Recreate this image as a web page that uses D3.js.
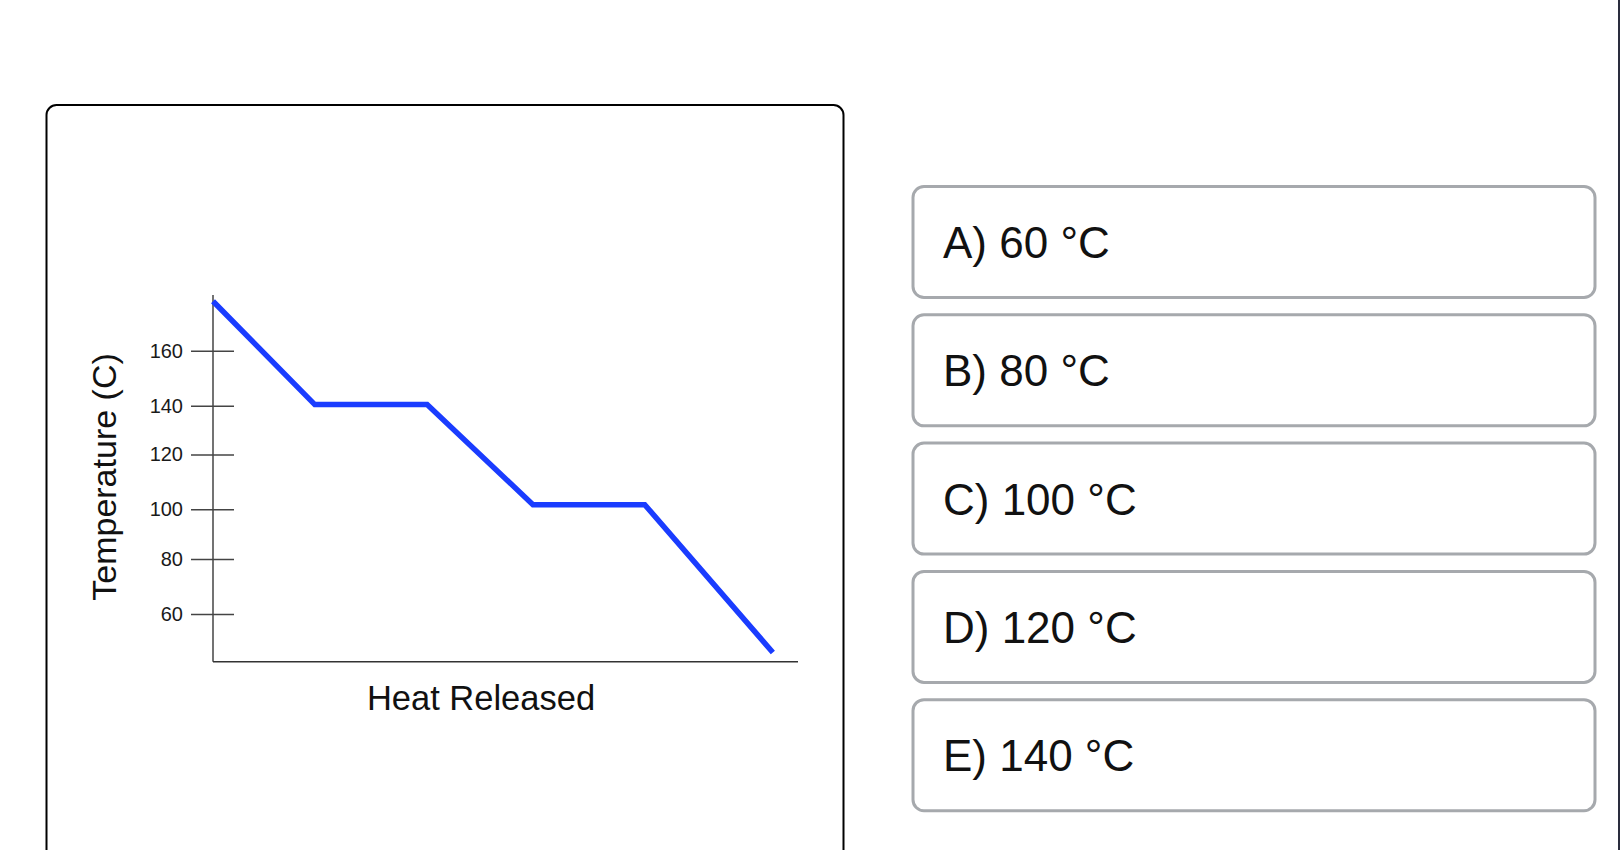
<!DOCTYPE html>
<html>
<head>
<meta charset="utf-8">
<script src="https://cdn.jsdelivr.net/npm/d3@7"></script>
<style>
  html,body{margin:0;padding:0;background:#fff;overflow:hidden}
  svg{display:block}
  text{font-family:"Liberation Sans",Arial,Helvetica,sans-serif}
</style>
</head>
<body>
<svg id="chart" width="1620" height="850"></svg>
<script>
// cooling curve data
var heatReleased = [0, 17.4, 36.6, 54.7, 73.8, 95.7]
var temperature = [178, 140.4, 140.4, 101.7, 101.7, 46]
var yTicks = [60, 80, 100, 120, 140, 160]
var choices = ['A) 60 °C', 'B) 80 °C', 'C) 100 °C', 'D) 120 °C', 'E) 140 °C']

var svg = d3.select('#chart')

// card round the chart
svg.append('rect')
    .attr('x', 46.5).attr('y', 105)
    .attr('width', 797).attr('height', 800)
    .attr('rx', 10)
    .attr('fill', '#fff')
    .attr('stroke', '#000')
    .attr('stroke-width', 2)

// y ticks in the source are not evenly spaced, so map them piecewise
var y = d3.scaleLinear()
    .domain(yTicks)
    .range([614, 559, 509.3, 454.5, 405.7, 350.7])
var x = d3.scaleLinear().domain([0, 100]).range([213, 798])
var yBottom = 42.6, yTop = 180.3

var g = svg.append('g')

// y axis: ticks cross the line
var yAxis = g.append('g')
    .attr('transform', 'translate(' + x(0) + ',0)')
    .call(d3.axisLeft(y).tickValues(yTicks).tickSize(22).tickPadding(8).tickSizeOuter(0))
yAxis.select('.domain').remove()
yAxis.selectAll('.tick line')
    .attr('x1', 21)
    .attr('stroke', '#444')
    .attr('stroke-width', 1.5)
yAxis.selectAll('.tick text')
    .attr('font-size', 20)
    .attr('fill', '#1a1a1a')
    .attr('font-family', '"Liberation Sans",Arial,Helvetica,sans-serif')

g.append('line')
    .attr('x1', x(0)).attr('x2', x(0))
    .attr('y1', y(yTop)).attr('y2', y(yBottom))
    .attr('stroke', '#444')
    .attr('stroke-width', 1.5)

// x axis, no ticks
g.append('line')
    .attr('x1', x(0)).attr('x2', x(100))
    .attr('y1', y(yBottom)).attr('y2', y(yBottom))
    .attr('stroke', '#333')
    .attr('stroke-width', 1.5)

g.append('text')
    .attr('x', 481).attr('y', 710)
    .attr('text-anchor', 'middle')
    .attr('font-size', 34.5)
    .attr('fill', '#111')
    .text('Heat Released')

g.append('text')
    .attr('transform', 'translate(116,477) rotate(-90)')
    .attr('text-anchor', 'middle')
    .attr('font-size', 34)
    .attr('fill', '#111')
    .text('Temperature (C)')

var line = d3.line()
    .x(function(d, i) { return x(heatReleased[i]) })
    .y(function(d) { return y(d) })

g.append('path')
    .datum(temperature)
    .attr('d', line)
    .attr('fill', 'none')
    .attr('stroke', '#1a3cff')
    .attr('stroke-width', 5.5)
    .attr('stroke-linejoin', 'miter')

// answer boxes
var box = svg.selectAll('g.choice')
    .data(choices)
    .enter().append('g')
    .attr('class', 'choice')
    .attr('transform', function(d, i) { return 'translate(913,' + (186.5 + i * 128.3) + ')' })

box.append('rect')
    .attr('width', 682).attr('height', 111)
    .attr('rx', 11)
    .attr('fill', '#fff')
    .attr('stroke', '#a6a9ad')
    .attr('stroke-width', 3)

box.append('text')
    .attr('x', 30).attr('y', 71.5)
    .attr('font-size', 44)
    .attr('fill', '#111')
    .text(String)

// dark strip on the right edge
svg.append('rect')
    .attr('x', 1618).attr('y', 0)
    .attr('width', 2).attr('height', 850)
    .attr('fill', '#2a2d3e')
</script>
</body>
</html>
